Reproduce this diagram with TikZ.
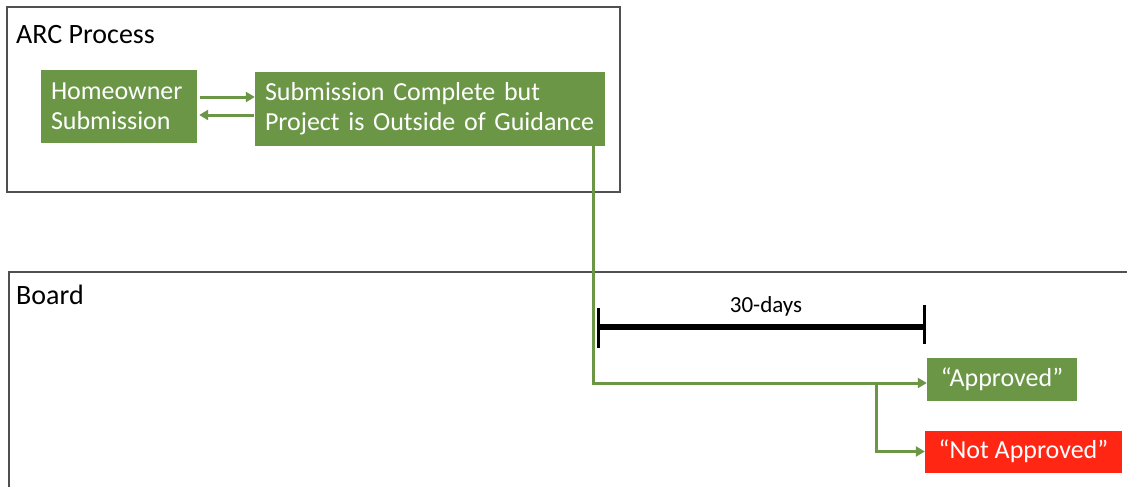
\documentclass[tikz,border=0pt]{standalone}
\usepackage{fontspec}
\setmainfont{Carlito}
\usetikzlibrary{arrows.meta,calc}
\definecolor{boxgreen}{RGB}{106,150,70}
\definecolor{boxred}{RGB}{255,38,20}
\definecolor{framegray}{RGB}{80,80,80}
\tikzset{
  frame/.style={draw=framegray,line width=1.4pt},
  title/.style={anchor=base west,inner sep=0pt,font=\fontsize{28}{32}\selectfont},
  gbox/.style={fill=boxgreen,draw=none,text=white,inner xsep=10pt,inner ysep=0pt,
    font=\fontsize{26}{30}\selectfont,align=left},
  rbox/.style={fill=boxred,draw=none,text=white,inner sep=0pt,
    font=\fontsize{26}{30}\selectfont},
  flow/.style={draw=boxgreen,line width=3pt,-{Triangle[length=9pt,width=10pt]}},
  line/.style={draw=boxgreen,line width=3pt},
  bar/.style={draw=black,line width=6pt},
  tick/.style={draw=black,line width=3pt}
}
\begin{document}
\begin{tikzpicture}[x=1pt,y=-1pt]
\useasboundingbox[fill=white] (0,0) rectangle (1127,487);
\clip (0,0) rectangle (1127,487);
% frames
\draw[frame] (7,7) rectangle (620,192);
\draw[frame] (9,272) rectangle (1150,510);
\node[title] (arct) at (16,44) {ARC Process};
\node[title] (boardt) at (16,304) {Board};
% boxes
\node[gbox,minimum width=156pt,minimum height=73pt,text width=136pt] (home) at (119,106.5) {Homeowner\\Submission};
\node[gbox,minimum width=350pt,minimum height=74pt,text width=330pt] (sub) at (430,109) {Submission Complete but\\Project is Outside of Guidance};
\node[gbox,align=center,inner xsep=0pt,minimum width=150pt,minimum height=43pt] (appr) at (1002,379) {“Approved”};
\node[rbox,minimum width=197pt,minimum height=42pt] (napp) at (1023.5,451.5) {“Not Approved”};
% arrows between top boxes
\draw[flow] ($(home.east)+(3,-9.5)$) -- ($(sub.west)+(0,-12)$);
\draw[flow] ($(sub.west)+(-1,6)$) -- ($(home.east)+(2,8.5)$);
% path to board decisions
\coordinate (corner) at (593,383);
\coordinate (split) at (876,383);
\draw[line] (sub.south -| corner) -- (corner) -- (split);
\draw[flow] (split) -- (split -| appr.west);
\draw[flow] (split) -- (split |- napp.west) -- (napp.west);
% 30-days bar
\coordinate (bl) at (598,327);
\coordinate (br) at (924,327);
\draw[bar] (bl) -- (br);
\draw[tick] ($(bl)+(0,-19)$) -- ($(bl)+(0,21)$);
\draw[tick] ($(br)+(0,-22)$) -- ($(br)+(0,17)$);
\node[font=\fontsize{23}{27}\selectfont,inner sep=0pt] (days) at (766,306) {30-days};
\end{tikzpicture}
\end{document}
